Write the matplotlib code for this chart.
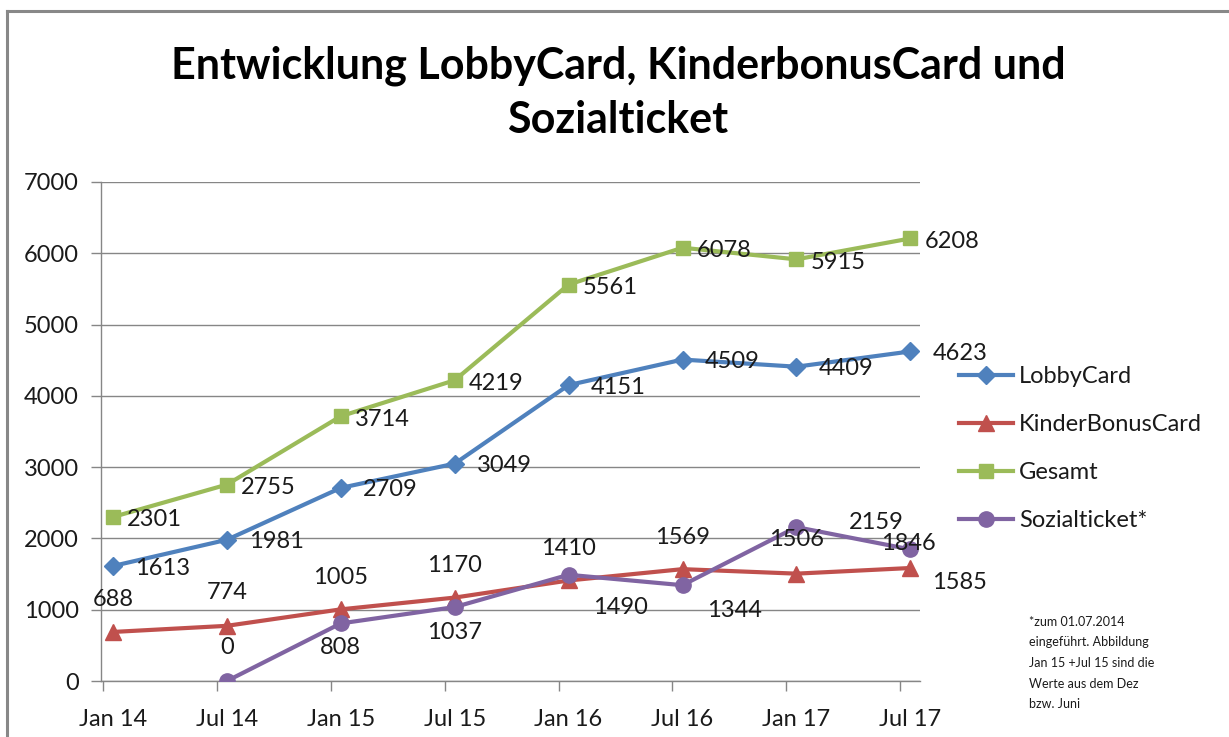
import matplotlib
matplotlib.use("Agg")
import matplotlib.pyplot as plt
from matplotlib.lines import Line2D
import numpy as np

plt.rcParams['font.family'] = ['Lato', 'DejaVu Sans']

categories = ["Jan 14", "Jul 14", "Jan 15", "Jul 15", "Jan 16", "Jul 16", "Jan 17", "Jul 17"]
lobbycard = [1613, 1981, 2709, 3049, 4151, 4509, 4409, 4623]
kinderbonus = [688, 774, 1005, 1170, 1410, 1569, 1506, 1585]
gesamt = [2301, 2755, 3714, 4219, 5561, 6078, 5915, 6208]
sozialticket = [None, 0, 808, 1037, 1490, 1344, 2159, 1846]
y_ticks = [0, 1000, 2000, 3000, 4000, 5000, 6000, 7000]

title = "Entwicklung LobbyCard, KinderbonusCard und\nSozialticket"
note = "*zum 01.07.2014\neingeführt. Abbildung\nJan 15 +Jul 15 sind die\nWerte aus dem Dez\nbzw. Juni"

W, H = 1229, 737
fig = plt.figure(figsize=(W / 100, H / 100), dpi=100)
ax = fig.add_axes([101 / W, 1 - 681 / H, (920 - 101) / W, (681 - 182) / H])

x = np.arange(len(categories))
blue, red, green, purple = "#4F81BD", "#C0504D", "#9BBB59", "#8064A2"

ax.plot(x, lobbycard, color=blue, lw=3, marker="D", ms=9, label="LobbyCard", zorder=4)
ax.plot(x, kinderbonus, color=red, lw=3, marker="^", ms=11, label="KinderBonusCard", zorder=3)
ax.plot(x, gesamt, color=green, lw=3, marker="s", ms=10, label="Gesamt", zorder=4)
xs = [xi for xi, v in zip(x, sozialticket) if v is not None]
ys = [v for v in sozialticket if v is not None]
ax.plot(xs, ys, color=purple, lw=3, marker="o", ms=11, label="Sozialticket*", zorder=5)

fs = 17
def lab(xi, v, dx, dy, ha="center"):
    ax.annotate(str(v), (xi, v), xytext=(dx, dy), textcoords="offset pixels",
                ha=ha, va="center", fontsize=fs, color="#1a1a1a", zorder=6)

for xi, v in zip(x, lobbycard):
    lab(xi, v, 22, -2, ha="left")
for xi, v in zip(x, gesamt):
    lab(xi, v, 14, -3, ha="left")
kin_off = [(0, 32), (0, 33), (0, 32), (0, 32), (0, 32), (0, 32), (0, 34), (22, -14)]
for xi, v, (dx, dy) in zip(x, kinderbonus, kin_off):
    lab(xi, v, dx, dy, ha="left" if dx > 10 else "center")
soz_off = [None, (0, 33), (0, -24), (0, -25), (52, -33), (52, -25), (80, 5), (-2, 6)]
for xi, v, off in zip(x, sozialticket, soz_off):
    if v is None:
        continue
    dx, dy = off
    lab(xi, v, dx, dy)

ax.set_xlim(-0.105, 7.085)
ax.set_ylim(0, 7000)
ax.set_yticks(y_ticks)
ax.set_yticklabels([str(t) for t in y_ticks], fontsize=fs, color="#1a1a1a")
ax.yaxis.grid(True, color="#868686", lw=1)
ax.set_axisbelow(True)

# major ticks (marks only) slightly left of the points, labels at the points
ax.set_xticks(x - 0.088)
ax.set_xticklabels([""] * len(x))
ax.set_xticks(x, categories, minor=True)
ax.tick_params(axis="x", which="minor", length=0, pad=20, labelsize=fs, labelcolor="#1a1a1a")
ax.tick_params(axis="x", which="major", length=7, color="#868686", width=1)
ax.tick_params(axis="y", length=7, color="#868686", width=1, pad=9)

for s in ["top", "right"]:
    ax.spines[s].set_visible(False)
for s in ["left", "bottom"]:
    ax.spines[s].set_color("#868686")
    ax.spines[s].set_linewidth(1)

fig.text(618 / W, 1 - 93 / H, title, ha="center", va="center", fontsize=31,
         fontweight="bold", linespacing=1.42, color="black")

handles = [
    Line2D([], [], color=blue, lw=3, marker="D", ms=9),
    Line2D([], [], color=red, lw=3, marker="^", ms=11),
    Line2D([], [], color=green, lw=3, marker="s", ms=10),
    Line2D([], [], color=purple, lw=3, marker="o", ms=11),
]
leg = fig.legend(handles, ["LobbyCard", "KinderBonusCard", "Gesamt", "Sozialticket*"],
                 loc="upper left", bbox_to_anchor=(959 / W, 1 - 366 / H), frameon=False,
                 fontsize=fs, handlelength=2.3, handletextpad=0.25, labelspacing=1.15,
                 borderaxespad=0, borderpad=0)
for t in leg.get_texts():
    t.set_color("#1a1a1a")

fig.text(1029 / W, 1 - 616 / H, note, ha="left", va="top", fontsize=9,
         linespacing=1.85, color="#1a1a1a")

# chart frame
fig.add_artist(Line2D([7 / W, 7 / W], [1 - 11 / H, 0], color="#888888", lw=2.2))
fig.add_artist(Line2D([7 / W, 1], [1 - 11 / H, 1 - 11 / H], color="#888888", lw=2.2))

fig.savefig("out.png", dpi=100, facecolor="white")
